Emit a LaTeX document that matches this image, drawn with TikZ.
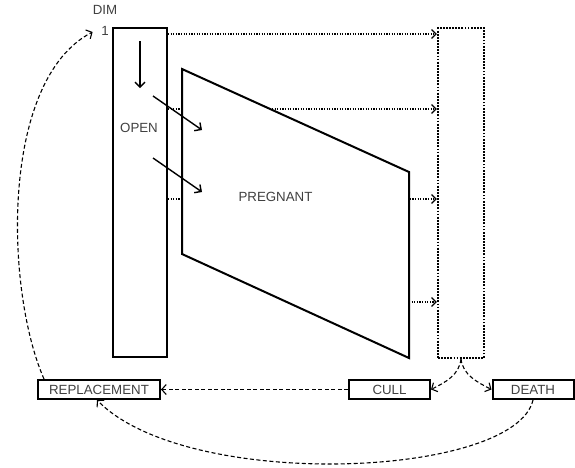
\documentclass[tikz,border=0pt]{standalone}
\usepackage{fontspec}
\setmainfont{Liberation Sans}
\usetikzlibrary{arrows.meta}
\begin{document}
\begin{tikzpicture}[x=1pt,y=-1pt,
  lbl/.style={font=\fontsize{13.3}{15}\selectfont, text=black!75, inner sep=0pt},
  boxnode/.style={draw, line width=2pt, minimum height=19pt, inner sep=0pt, font=\fontsize{13.3}{15}\selectfont, text=black!75},
  dotarrow/.style={line width=1.2pt, dash pattern=on 1.2pt off 1.4pt, -{Straight Barb[length=4.5pt,width=9pt]}},
  dasharrow/.style={line width=1.1pt, dash pattern=on 4pt off 2.5pt, -{Straight Barb[length=4.5pt,width=10pt]}},
  solidarrow/.style={line width=1.4pt, -{Straight Barb[length=5pt,width=10pt]}},
]
\useasboundingbox (0,0) rectangle (575,467);

% main compartments
\node[draw, line width=2pt, minimum width=54pt, minimum height=329pt, inner sep=0pt] (open) at (140,192.5) {};
\node[draw, line width=2.2pt, dash pattern=on 1.8pt off 1.3pt, minimum width=46pt, minimum height=330pt, inner sep=0pt] (dead) at (461,193) {};

% dotted exits
\draw[dotarrow] (open.east |- 0,34) -- (dead.west |- 0,34);
\draw[dotarrow] (open.east |- 0,109) -- (dead.west |- 0,109);
\draw[dotarrow] (open.east |- 0,199) -- (dead.west |- 0,199);

% pregnant parallelogram
\coordinate (p1) at (182,69);
\coordinate (p2) at (409,172);
\coordinate (p3) at (409,358);
\coordinate (p4) at (182,254);
\fill[white] (p1) -- (p2) -- (p3) -- (p4) -- cycle;
\draw[line width=2pt, line join=miter] (p1) -- (p2) -- (p3) -- (p4) -- cycle;
\draw[dotarrow] (p2 |- 0,302) -- (dead.west |- 0,302);

% flows inside
\coordinate (v1) at (140,41);
\coordinate (v2) at (140,88);
\coordinate (d1s) at (153,96);
\coordinate (d1e) at (202,130);
\coordinate (d2s) at (153,158);
\coordinate (d2e) at (202,192);
\draw[solidarrow] (v1) -- (v2);
\draw[solidarrow] (d1s) -- (d1e);
\draw[solidarrow] (d2s) -- (d2e);

% labels
\node[lbl] (dim) at (105,10) {DIM};
\node[lbl] (one) at (105,31) {1};
\node[lbl] (openlbl) at (139,128) {OPEN};
\node[lbl] (preg) at (275.5,197) {PREGNANT};

% boxes
\node[boxnode, minimum width=122pt] (repl) at (99,389.5) {REPLACEMENT};
\node[boxnode, minimum width=81pt] (cull) at (389.5,389.5) {CULL};
\node[boxnode, minimum width=81pt] (death) at (533,389.5) {DEATH};

% dashed flows
\draw[dasharrow] (dead.south) .. controls (459,375) and (446,382) .. (cull.east);
\draw[dasharrow] (dead.south) .. controls (463,375) and (477,382) .. (death.west);
\draw[dasharrow] (cull.west) -- (repl.east);
\draw[dasharrow] (death.south) .. controls (515,478) and (187,492) .. ([xshift=-2pt]repl.south);
\draw[dasharrow] ([xshift=7pt]repl.north west) .. controls (5,290) and (0,80) .. ([xshift=-8.5pt,yshift=-1pt]one.west);
\end{tikzpicture}
\end{document}
